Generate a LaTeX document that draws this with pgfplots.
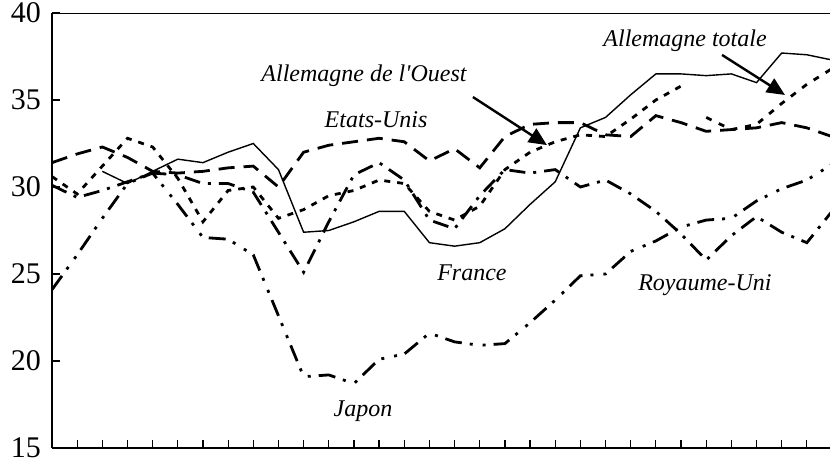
\documentclass[border=0pt]{standalone}
\usepackage{fontspec}
\setmainfont{Liberation Serif}
\usepackage{pgfplots}
\pgfplotsset{compat=1.18}
\usetikzlibrary{arrows.meta}

\begin{document}
\begin{tikzpicture}
\useasboundingbox (-26pt,-7pt) rectangle (389pt,224pt);
\begin{axis}[
    scale only axis,
    width=390pt, height=217.5pt,
    xmin=0, xmax=31, ymin=15, ymax=40,
    axis x line*=bottom, axis y line*=left,
    axis line style={-, line width=1.4pt},
    xtick={1,...,30}, xticklabels={},
    ytick={15,20,...,40},
    tick align=inside, major tick length=4pt,
    tick style={line width=0.6pt, black},
    yticklabel style={font=\fontsize{15}{15}\selectfont, anchor=east, xshift=-2pt},
    /pgf/number format/assume math mode=true,
    clip=true,
    every axis plot/.append style={line width=1.4pt, black},
]
% France
\addplot[line width=0.7pt] coordinates {
 (2,30.9) (3,30.2) (4,30.9) (5,31.6) (6,31.4) (7,32.0) (8,32.5) (9,31.0)
 (10,27.4) (11,27.5) (12,28.0) (13,28.6) (14,28.6) (15,26.8) (16,26.6) (17,26.8)
 (18,27.6) (19,29.0) (20,30.3) (21,33.4) (22,34.0) (23,35.3) (24,36.5) (25,36.5)
 (26,36.4) (27,36.5) (28,36.0) (29,37.7) (30,37.6) (31,37.3)};
% Etats-Unis
\addplot[dash pattern=on 8pt off 4.5pt] coordinates {
 (0,31.4) (1,31.9) (2,32.3) (3,31.7) (4,30.9) (5,30.8) (6,30.9) (7,31.1) (8,31.2)
 (9,30.0) (10,32.0) (11,32.4) (12,32.6) (13,32.8) (14,32.6) (15,31.5) (16,32.2)
 (17,31.1) (18,32.9) (19,33.6) (20,33.7) (21,33.7) (22,33.0) (23,32.9) (24,34.1)
 (25,33.7) (26,33.2) (27,33.3) (28,33.4) (29,33.7) (30,33.4) (31,32.9)};
% Japon
\addplot[dash pattern=on 8.5pt off 4pt on 1.5pt off 5pt on 1.5pt off 4pt] coordinates {
 (0,24.1) (1,26.1) (2,28.2) (3,30.2) (4,30.8) (5,29.0) (6,27.1) (7,27.0) (8,26.1)
 (9,22.6) (10,19.1) (11,19.2) (12,18.7) (13,20.1) (14,20.4) (15,21.6) (16,21.1)
 (17,20.9) (18,21.0) (19,22.2) (20,23.5) (21,24.9) (22,25.0) (23,26.3) (24,26.9)
 (25,27.7) (26,28.1) (27,28.2) (28,29.2) (29,29.9) (30,30.4) (31,31.3)};
% Royaume-Uni
\addplot[dash pattern=on 8pt off 4pt on 1.5pt off 4pt] coordinates {
 (0,30.1) (1,29.4) (2,29.8) (3,30.3) (4,30.8) (5,30.7) (6,30.2) (7,30.2) (8,29.7)
 (9,27.4) (10,25.1) (11,28.0) (12,30.7) (13,31.4) (14,30.4) (15,28.1) (16,27.6)
 (17,29.5) (18,31.0) (19,30.8) (20,31.0) (21,30.0) (22,30.4) (23,29.6) (24,28.6)
 (25,27.3) (26,25.8) (27,27.2) (28,28.3) (29,27.4) (30,26.8) (31,28.6)};
% Allemagne de l'Ouest
\addplot[dash pattern=on 3pt off 3.5pt] coordinates {
 (0,30.6) (1,29.6) (2,31.2) (3,32.8) (4,32.3) (5,30.5) (6,28.0) (7,29.8) (8,30.0)
 (9,28.2) (10,28.7) (11,29.5) (12,29.8) (13,30.4) (14,30.2) (15,28.6) (16,28.1)
 (17,28.9) (18,31.0) (19,32.0) (20,32.6) (21,33.0) (22,32.9) (23,33.9) (24,35.0)
 (25,35.8)};
% Allemagne totale
\addplot[dash pattern=on 3pt off 4pt] coordinates {
 (26,34.0) (27,33.3) (28,33.6) (29,34.8) (30,35.9) (31,36.8)};

\draw[line width=0.7pt] (rel axis cs:0,1) -- (rel axis cs:1,1);

\begin{scope}[every node/.style={font=\fontsize{12}{12}\selectfont\itshape}]
\node at (axis cs:12.40,36.38) {Allemagne de l\textquotesingle Ouest};
\node at (axis cs:12.88,33.85) {Etats-Unis};
\node at (axis cs:25.16,38.39) {Allemagne totale};
\node at (axis cs:16.69,25.06) {France};
\node at (axis cs:12.36,17.13) {Japon};
\node at (axis cs:25.95,24.37) {Royaume-Uni};
\end{scope}
\draw[line width=1.2pt, -{Triangle[length=9pt,width=8pt]}] (axis cs:16.73,35.17) -- (axis cs:19.67,32.41);
\draw[line width=1.2pt, -{Triangle[length=9pt,width=8pt]}] (axis cs:26.63,37.59) -- (axis cs:29.13,35.29);
\end{axis}
\end{tikzpicture}
\end{document}
